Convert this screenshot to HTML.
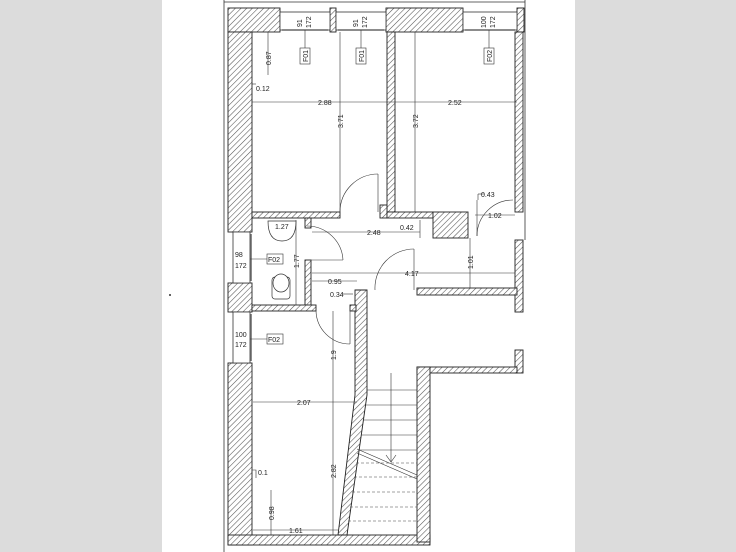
<!DOCTYPE html>
<html><head><meta charset="utf-8"><style>
html,body{margin:0;padding:0;background:#fff}
svg{display:block}
text{font-family:"Liberation Sans",sans-serif;font-size:7px;fill:#222}
</style></head><body>
<svg width="736" height="552" viewBox="0 0 736 552" xmlns="http://www.w3.org/2000/svg">
<defs>
<pattern id="h" patternUnits="userSpaceOnUse" width="4" height="4" patternTransform="rotate(45)">
<rect width="4" height="4" fill="#fff"/><line x1="0" y1="0" x2="0" y2="4" stroke="#555" stroke-width="1.1"/>
</pattern>
</defs>
<rect x="0" y="0" width="162" height="552" fill="#dcdcdc"/>
<rect x="575" y="0" width="161" height="552" fill="#dcdcdc"/>
<circle cx="170" cy="295" r="1" fill="#333"/>
<g stroke="#333" stroke-width="0.8">
<line x1="224" y1="0" x2="224" y2="552"/>
<line x1="525" y1="0" x2="525" y2="240"/>
<line x1="224" y1="2" x2="525" y2="2"/>
</g>
<g fill="url(#h)" stroke="#222" stroke-width="0.9">
<!-- top wall segments -->
<rect x="228" y="8" width="52" height="24"/>
<rect x="330" y="8" width="6" height="24"/>
<rect x="386" y="8" width="77" height="24"/>
<rect x="517" y="8" width="7" height="24"/>
<!-- left outer wall -->
<rect x="228" y="32" width="24" height="200"/>
<rect x="228" y="283" width="24" height="29"/>
<rect x="228" y="363" width="24" height="182"/>
<rect x="228" y="535" width="202" height="10"/>
<!-- wall between top rooms -->
<rect x="387" y="32" width="8" height="180"/>
<!-- bottom of left room -->
<rect x="252" y="212" width="88" height="6"/>
<rect x="380" y="205" width="7" height="13"/>
<rect x="387" y="212" width="46" height="6"/>
<rect x="433" y="212" width="35" height="26"/>
<!-- right wall -->
<rect x="515" y="32" width="8" height="180"/>
<rect x="515" y="240" width="8" height="72"/>
<rect x="515" y="350" width="8" height="23"/>
<!-- bathroom walls -->
<rect x="305" y="218" width="6" height="10"/>
<rect x="305" y="260" width="6" height="50"/>
<rect x="252" y="305" width="64" height="6"/>
<!-- corridor wall -->
<rect x="417" y="288" width="100" height="7"/>
<rect x="417" y="367" width="100" height="6"/>
<rect x="417" y="367" width="13" height="175"/>
<!-- stair left slanted wall -->
<polygon points="355,290 367,290 367,395 347,535 338,535 355,395"/>
<rect x="350" y="305" width="6" height="6"/>
</g>
<!-- windows top -->
<g fill="#fff" stroke="#333" stroke-width="0.8">
<rect x="280" y="12" width="50" height="18"/>
<rect x="336" y="12" width="50" height="18"/>
<rect x="463" y="12" width="54" height="18"/>
<rect x="233" y="232" width="17" height="51"/>
<rect x="233" y="312" width="17" height="51"/>
</g>
<g stroke="#666" stroke-width="1.5">
<line x1="282" y1="30" x2="328" y2="30"/><line x1="338" y1="30" x2="384" y2="30"/><line x1="465" y1="30" x2="515" y2="30"/>
<line x1="251" y1="234" x2="251" y2="281"/><line x1="251" y1="314" x2="251" y2="361"/>
</g>
<!-- dimension lines -->
<g stroke="#333" stroke-width="0.6" fill="none">
<line x1="305" y1="30" x2="305" y2="48"/><line x1="361" y1="30" x2="361" y2="48"/><line x1="489" y1="30" x2="489" y2="48"/>
<line x1="252" y1="102" x2="517" y2="102"/>
<line x1="340" y1="32" x2="340" y2="212"/>
<line x1="415" y1="32" x2="415" y2="212"/>
<line x1="268" y1="32" x2="268" y2="75"/>
<line x1="312" y1="232" x2="420" y2="232"/>
<line x1="420" y1="220" x2="420" y2="238"/>
<line x1="475" y1="215" x2="515" y2="215"/>
<line x1="478" y1="194" x2="478" y2="200"/><line x1="478" y1="194" x2="484" y2="194"/>
<line x1="470" y1="238" x2="470" y2="288"/>
<line x1="312" y1="273" x2="515" y2="273"/>
<line x1="312" y1="281" x2="357" y2="281"/>
<line x1="342" y1="294" x2="353" y2="294"/>
<line x1="296" y1="220" x2="296" y2="305"/>
<line x1="250" y1="259" x2="270" y2="259"/><line x1="250" y1="339" x2="270" y2="339"/>
<line x1="333" y1="311" x2="333" y2="535"/>
<line x1="253" y1="402" x2="357" y2="402"/>
<line x1="271" y1="490" x2="271" y2="535"/>
<line x1="253" y1="530" x2="338" y2="530"/>
<polyline points="252,470 256,470 256,478"/>
<polyline points="252,84 256,84"/>
<!-- doors -->
<path d="M340,212 A38,38 0 0 1 378,174"/><line x1="378" y1="174" x2="378" y2="212"/>
<path d="M307,226 A36,36 0 0 1 343,260"/><line x1="307" y1="260" x2="343" y2="260"/>
<path d="M375,290 A39,39 0 0 1 414,249"/><line x1="414" y1="249" x2="414" y2="290"/>
<path d="M316,310 A34,34 0 0 0 350,344"/><line x1="350" y1="310" x2="350" y2="344"/>
<path d="M477,236 A36,36 0 0 1 513,200"/><line x1="477" y1="200" x2="477" y2="236"/>
<!-- stairs -->
<line x1="367" y1="390" x2="417" y2="390"/><line x1="365" y1="405" x2="417" y2="405"/>
<line x1="363" y1="420" x2="417" y2="420"/><line x1="361" y1="435" x2="417" y2="435"/>
<line x1="359" y1="450" x2="417" y2="450"/>
<line x1="391" y1="373" x2="391" y2="462"/>
<polyline points="386,455 391,462 396,455"/>
<line x1="357" y1="449" x2="417" y2="475"/><line x1="357" y1="453" x2="417" y2="479"/>
</g>
<g stroke="#444" stroke-width="0.6" stroke-dasharray="3,2">
<line x1="356" y1="463" x2="417" y2="463"/><line x1="354" y1="477" x2="417" y2="477"/>
<line x1="352" y1="492" x2="417" y2="492"/><line x1="350" y1="507" x2="417" y2="507"/>
<line x1="348" y1="521" x2="417" y2="521"/>
</g>
<!-- fixtures -->
<g fill="#fff" stroke="#333" stroke-width="0.7">
<path d="M268,221 L296,221 Q296,241 282,241 Q268,241 268,221Z"/>
<rect x="272" y="277" width="18" height="22" rx="3"/>
<ellipse cx="281" cy="283" rx="8" ry="9"/>
</g>
<!-- labels boxes -->
<g fill="#fff" stroke="#333" stroke-width="0.6">
<rect x="300" y="48" width="10" height="16"/><rect x="356" y="48" width="10" height="16"/><rect x="484" y="48" width="10" height="16"/>
<rect x="267" y="254" width="16" height="10"/><rect x="267" y="334" width="16" height="10"/>
</g>
<g>
<text transform="translate(308,62) rotate(-90)">F01</text>
<text transform="translate(364,62) rotate(-90)">F01</text>
<text transform="translate(492,62) rotate(-90)">F02</text>
<text transform="translate(302,27) rotate(-90)">91</text><text transform="translate(311,28) rotate(-90)">172</text>
<text transform="translate(358,27) rotate(-90)">91</text><text transform="translate(367,28) rotate(-90)">172</text>
<text transform="translate(486,28) rotate(-90)">100</text><text transform="translate(495,28) rotate(-90)">172</text>
<text x="268" y="262">F02</text><text x="268" y="342">F02</text>
<text x="235" y="257">98</text><text x="235" y="268">172</text>
<text x="235" y="337">100</text><text x="235" y="347">172</text>
<text transform="translate(271,65) rotate(-90)">0.87</text>
<text x="256" y="91">0.12</text>
<text x="318" y="105">2.88</text><text x="448" y="105">2.52</text>
<text transform="translate(343,128) rotate(-90)">3.71</text>
<text transform="translate(418,128) rotate(-90)">3.72</text>
<text x="367" y="235">2.48</text><text x="400" y="230">0.42</text>
<text x="488" y="218">1.02</text><text x="481" y="197">0.43</text>
<text transform="translate(473,269) rotate(-90)">1.01</text>
<text x="405" y="276">4.17</text>
<text x="328" y="284">0.95</text><text x="330" y="297">0.34</text>
<text transform="translate(299,268) rotate(-90)">1.77</text>
<text x="275" y="229">1.27</text>
<text transform="translate(336,360) rotate(-90)">1.9</text>
<text x="297" y="405">2.07</text>
<text transform="translate(336,478) rotate(-90)">2.82</text>
<text transform="translate(274,520) rotate(-90)">0.98</text>
<text x="289" y="533">1.61</text>
<text x="258" y="475">0.1</text>
</g>
</svg>
</body></html>
